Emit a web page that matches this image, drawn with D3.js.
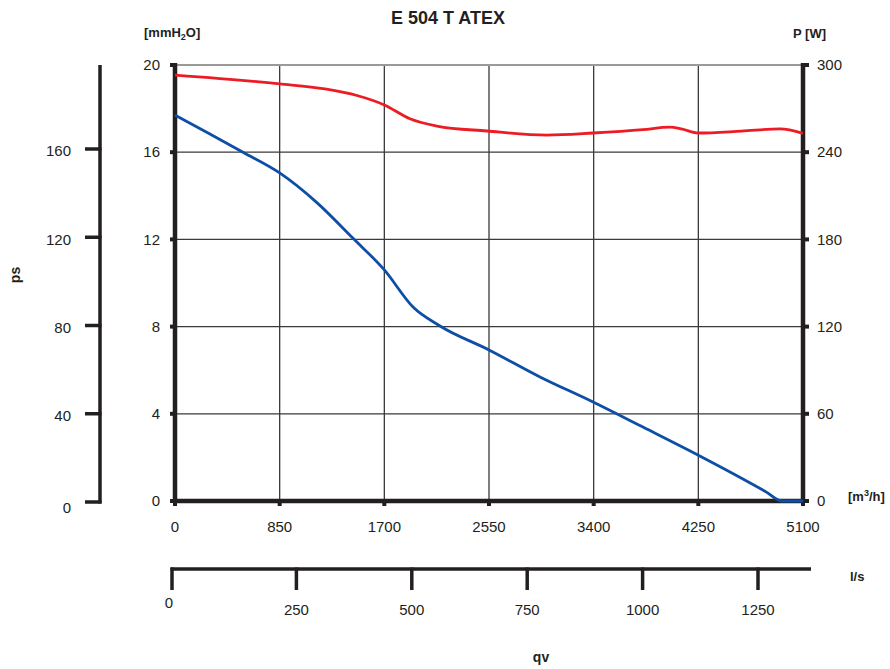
<!DOCTYPE html>
<html>
<head>
<meta charset="utf-8">
<script src="https://cdn.jsdelivr.net/npm/d3@7"></script>
<style>
  html, body { margin: 0; padding: 0; background: #fff; }
  svg { display: block; font-family: "Liberation Sans", Arial, sans-serif; }
</style>
</head>
<body>
<svg id="chart" width="890" height="669"></svg>
<script>
// ---------- DATA ----------
const title = "E 504 T ATEX";
const flowTicks = [0, 850, 1700, 2550, 3400, 4250, 5100];        // m3/h
const pressureTicks = [0, 4, 8, 12, 16, 20];                       // mmH2O
const powerTicks = [0, 60, 120, 180, 240, 300];                    // W
const psTicks = [0, 40, 80, 120, 160];                             // Pa
const lsTicks = [0, 250, 500, 750, 1000, 1250];                    // l/s

// static pressure curve (blue), mmH2O vs m3/h
const psFlow = [0, 280, 552, 850, 1150, 1446, 1700, 1933, 2152, 2550, 2964, 3395, 3800, 4250, 4800, 4929, 5100];
const psValue = [17.7, 16.85, 16.0, 15.05, 13.7, 12.05, 10.6, 8.9, 8.03, 6.93, 5.69, 4.54, 3.39, 2.1, 0.42, 0.0, 0.0];

// power curve (red), W vs m3/h
const pwFlow = [0, 850, 1218, 1478, 1700, 1908, 2127, 2533, 3018, 3395, 3800, 4020, 4120, 4250, 4600, 4913, 5100];
const pwValue = [293, 287, 283.5, 279, 272.5, 263, 258, 254.6, 251.8, 253.2, 255.5, 257.3, 255.8, 253.2, 254.5, 256, 253];

// ---------- LAYOUT ----------
const svg = d3.select("#chart");
const ink = "#231f20";
const x = d3.scaleLinear().domain([0, 5100]).range([175, 803]);
const y = d3.scaleLinear().domain([0, 20]).range([501, 65]);
const yP = d3.scaleLinear().domain([0, 300]).range([501, 65]);
const yPs = d3.scaleLinear().domain([0, 160]).range([502, 149]);
const xLs = d3.scaleLinear().domain([0, 1250]).range([181, 758]);

const fs = 15;

// grid
const grid = svg.append("g");
grid.selectAll("line.v").data(flowTicks.slice(1, -1)).join("line")
  .attr("x1", d => x(d)).attr("x2", d => x(d))
  .attr("y1", y(20)).attr("y2", y(0))
  .attr("stroke", "#3a3a3a").attr("stroke-width", 1.3);
grid.selectAll("line.h").data(pressureTicks.slice(1, -1)).join("line")
  .attr("x1", x(0)).attr("x2", x(5100))
  .attr("y1", d => y(d)).attr("y2", d => y(d))
  .attr("stroke", "#3a3a3a").attr("stroke-width", 1.3);
grid.append("line")
  .attr("x1", x(0)).attr("x2", x(5100)).attr("y1", y(20)).attr("y2", y(20))
  .attr("stroke", "#9a9a9a").attr("stroke-width", 2);

// main axes
const axes = svg.append("g").attr("stroke", ink).attr("stroke-width", 4.5);
axes.append("line").attr("x1", x(0)).attr("x2", x(0)).attr("y1", y(20) - 2).attr("y2", y(0) + 2);
axes.append("line").attr("x1", x(5100)).attr("x2", x(5100)).attr("y1", y(20) - 2).attr("y2", y(0) + 2);
axes.append("line").attr("x1", x(0) - 2).attr("x2", x(5100) + 2).attr("y1", y(0)).attr("y2", y(0));

// tick squares
svg.selectAll("rect.lt").data(pressureTicks).join("rect")
  .attr("x", x(0) - 5).attr("y", d => y(d) - 2).attr("width", 5).attr("height", 4).attr("fill", ink);
svg.selectAll("rect.rt").data(powerTicks).join("rect")
  .attr("x", x(5100)).attr("y", d => yP(d) - 2).attr("width", 6).attr("height", 4).attr("fill", ink);
svg.selectAll("rect.bt").data(flowTicks).join("rect")
  .attr("x", d => x(d) - 2).attr("y", y(0)).attr("width", 4).attr("height", 5).attr("fill", ink);

// curves (drawn over the axes)
const lineBlue = d3.line().x((d, i) => x(psFlow[i])).y(d => y(d)).curve(d3.curveMonotoneX);
const lineRed = d3.line().x((d, i) => x(pwFlow[i])).y(d => yP(d)).curve(d3.curveMonotoneX);
svg.append("path").attr("d", lineRed(pwValue))
  .attr("fill", "none").attr("stroke", "#ed1c24").attr("stroke-width", 2.8);
svg.append("path").attr("d", lineBlue(psValue))
  .attr("fill", "none").attr("stroke", "#0d4ea6").attr("stroke-width", 2.8);

// tick labels
svg.selectAll("text.lt").data(pressureTicks).join("text")
  .attr("x", 160).attr("y", d => y(d)).attr("dy", "0.35em")
  .attr("text-anchor", "end").attr("font-size", fs).attr("fill", ink).text(d => d);
svg.selectAll("text.rt").data(powerTicks).join("text")
  .attr("x", 817).attr("y", d => yP(d)).attr("dy", "0.35em")
  .attr("text-anchor", "start").attr("font-size", fs).attr("fill", ink).text(d => d);
svg.selectAll("text.bt").data(flowTicks).join("text")
  .attr("x", d => x(d)).attr("y", 532)
  .attr("text-anchor", "middle").attr("font-size", fs).attr("fill", ink).text(d => d);

// ps (Pa) axis
const psX = 100;
svg.append("line").attr("x1", psX).attr("x2", psX).attr("y1", y(20)).attr("y2", yPs(0) + 1.5)
  .attr("stroke", ink).attr("stroke-width", 3.5);
svg.selectAll("line.pst").data(psTicks).join("line")
  .attr("x1", psX - 15).attr("x2", psX + 1.5).attr("y1", d => yPs(d)).attr("y2", d => yPs(d))
  .attr("stroke", ink).attr("stroke-width", 3.5);
svg.selectAll("text.pst").data(psTicks).join("text")
  .attr("x", 71).attr("y", d => yPs(d) + (d === 0 ? 6 : 2)).attr("dy", "0.35em")
  .attr("text-anchor", "end").attr("font-size", fs).attr("fill", ink).text(d => d);

// l/s axis
const lsY = 569;
svg.append("line").attr("x1", xLs(0) - 10.5).attr("x2", 811).attr("y1", lsY).attr("y2", lsY)
  .attr("stroke", ink).attr("stroke-width", 3.5);
svg.selectAll("line.lst").data(lsTicks).join("line")
  .attr("x1", (d, i) => i === 0 ? xLs(d) - 9 : xLs(d)).attr("x2", (d, i) => i === 0 ? xLs(d) - 9 : xLs(d))
  .attr("y1", lsY - 1.5).attr("y2", 590)
  .attr("stroke", ink).attr("stroke-width", 3.5);
svg.selectAll("text.lst").data(lsTicks).join("text")
  .attr("x", (d, i) => i === 0 ? xLs(d) - 12 : xLs(d)).attr("y", (d, i) => i === 0 ? 608 : 615)
  .attr("text-anchor", "middle").attr("font-size", fs).attr("fill", ink).text(d => d);

// titles and units
const bold = (t) => t.attr("font-weight", "bold").attr("fill", ink);
bold(svg.append("text").attr("x", 448).attr("y", 24).attr("text-anchor", "middle").attr("font-size", 18).text(title));
const mm = bold(svg.append("text").attr("x", 144).attr("y", 37).attr("font-size", 13));
mm.append("tspan").text("[mmH");
mm.append("tspan").attr("font-size", 9).attr("dy", 3).text("2");
mm.append("tspan").attr("dy", -3).text("O]");
bold(svg.append("text").attr("x", 793).attr("y", 38).attr("font-size", 13).text("P [W]"));
const m3 = bold(svg.append("text").attr("x", 848).attr("y", 501).attr("font-size", 13));
m3.append("tspan").text("[m");
m3.append("tspan").attr("font-size", 9).attr("dy", -5).text("3");
m3.append("tspan").attr("dy", 5).text("/h]");
bold(svg.append("text").attr("x", 850).attr("y", 581).attr("font-size", 13).text("l/s"));
bold(svg.append("text").attr("x", 541).attr("y", 662).attr("text-anchor", "middle").attr("font-size", 14).text("qv"));
bold(svg.append("text").attr("transform", "translate(20,275) rotate(-90)").attr("text-anchor", "middle").attr("font-size", 14).text("ps"));
</script>
</body>
</html>
